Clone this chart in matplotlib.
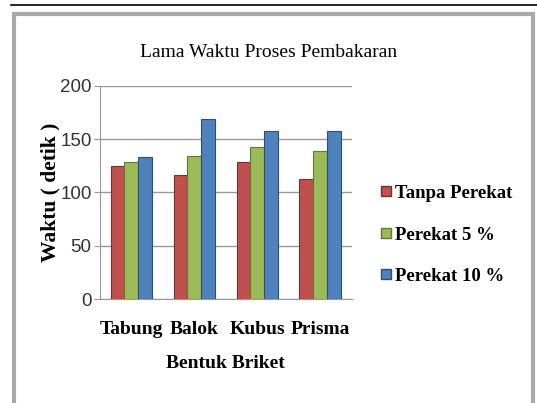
import matplotlib.pyplot as plt
import numpy as np
from matplotlib.patches import Rectangle
from matplotlib.lines import Line2D

categories = ["Tabung", "Balok", "Kubus", "Prisma"]
series_names = ["Tanpa Perekat", "Perekat 5 %", "Perekat 10 %"]
tanpa_perekat = [125, 116, 129, 113]
perekat_5 = [129, 134, 143, 139]
perekat_10 = [133, 169, 158, 158]
y_ticks = [0, 50, 100, 150, 200]

colors = ["#C0504D", "#9BBB59", "#4F81BD"]
edges = ["#7A2E2C", "#5E7A2E", "#2C4F7A"]
serif = ["Liberation Serif", "DejaVu Serif"]
narrow = ["Liberation Sans Narrow", "Liberation Sans", "DejaVu Sans"]

fig = plt.figure(figsize=(5.37, 4.03), dpi=100)
ax = fig.add_axes([0.186, 0.258, 0.469, 0.529])

x = np.arange(len(categories))
width = 0.22
for i, vals in enumerate([tanpa_perekat, perekat_5, perekat_10]):
    ax.bar(x + (i - 1) * width, vals, width=width, color=colors[i],
           edgecolor=edges[i], linewidth=0.8, label=series_names[i], zorder=3)

ax.set_xlim(-0.5, 3.5)
ax.set_ylim(0, 200)
ax.set_yticks(y_ticks)
ax.set_yticklabels([str(t) for t in y_ticks], family=narrow, fontsize=13.5, color="#333333")
ax.set_xticks(x)
ax.set_xticklabels(categories, family=serif, fontsize=14, fontweight="bold")
ax.tick_params(axis="x", length=0, pad=16)
ax.tick_params(axis="y", length=4, color="#999999", pad=2)
ax.grid(axis="y", color="#999999", linewidth=1.0, zorder=0)
for side in ["top", "right"]:
    ax.spines[side].set_visible(False)
ax.spines["left"].set_color("#999999")
ax.spines["bottom"].set_color("#999999")

ax.set_ylabel("Waktu ( detik )", family=serif, fontsize=15.5, fontweight="bold", labelpad=0)
ax.set_xlabel("Bentuk Briket", family=serif, fontsize=14, fontweight="bold", labelpad=12)
fig.text(0.5, 0.87, "Lama Waktu Proses Pembakaran", family=serif, fontsize=14,
         ha="center", va="center")

handles = [Line2D([0], [0], marker="s", linestyle="none", markersize=7,
                  markerfacecolor=colors[i], markeredgecolor=edges[i]) for i in range(3)]
fig.legend(handles, series_names, loc="center left", bbox_to_anchor=(0.67, 0.417),
           frameon=False, prop={"family": serif, "size": 13.5, "weight": "bold"},
           handletextpad=0.0, labelspacing=1.3, handlelength=1.0)

# page frame
fig.add_artist(Line2D([0.02, 1.0], [0.988, 0.988], color="black", linewidth=1.2))
fig.add_artist(Rectangle((0.026, -0.01), 0.966, 0.975, fill=False,
                         edgecolor="#AAAAAA", linewidth=3))

fig.savefig("out.png", dpi=100)
